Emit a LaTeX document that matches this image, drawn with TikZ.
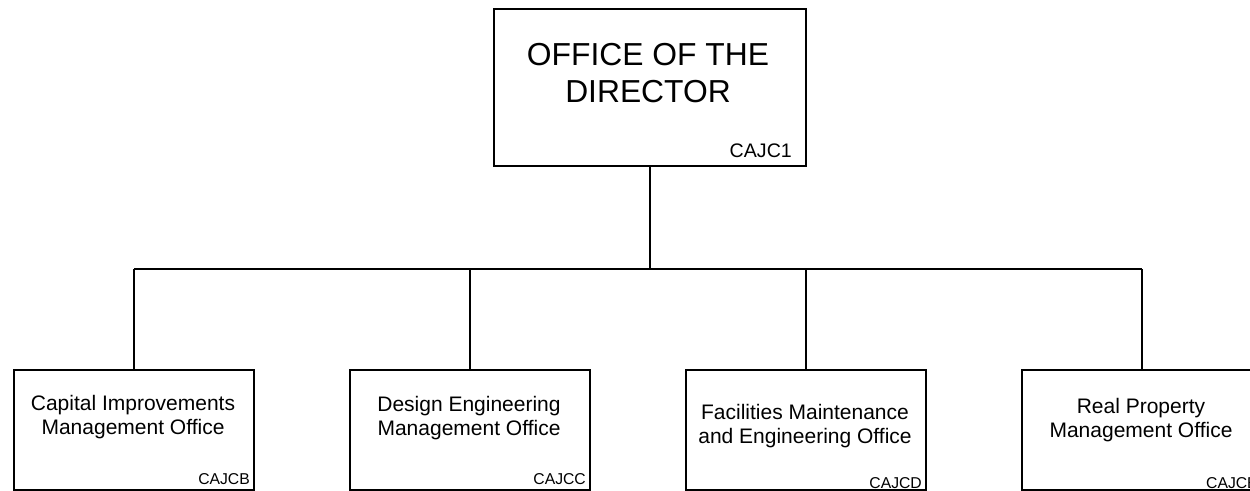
\documentclass[tikz,border=0pt]{standalone}
\usepackage{fontspec}
\setmainfont{Liberation Sans}
\begin{document}
\begin{tikzpicture}[x=1pt,y=-1pt,
  box/.style={draw=black,line width=2pt,fill=white,minimum width=240pt,minimum height=120pt,inner sep=0pt,anchor=north west},
  topbox/.style={box,minimum width=312pt,minimum height=157pt},
  title/.style={font=\fontsize{31.8}{37}\selectfont,align=center,text=black},
  unit/.style={font=\fontsize{21}{23.5}\selectfont,align=center,text=black},
  code/.style={font=\fontsize{15.7}{17}\selectfont,anchor=base east,inner sep=0pt,text=black},
  codebig/.style={font=\fontsize{19.6}{21}\selectfont,anchor=base east,inner sep=0pt,text=black},
  link/.style={draw=black,line width=2pt}]
\useasboundingbox (0,0) rectangle (1250,490);
\node[topbox] (dir) at (493,8) {};
\node[title] (dirt) at (648,73) {OFFICE OF THE\\DIRECTOR};
\node[codebig] (dirc) at (792,157) {CAJC1};
\coordinate (bar) at (650,269);
\node[box] (b1) at (13,369) {};
\node[box] (b2) at (349,369) {};
\node[box] (b3) at (685,369) {};
\node[box] (b4) at (1021,369) {};
\draw[link] (dir.south) -- (bar);
\draw[link] (b1.north |- bar) -- (b4.north |- bar);
\foreach \b in {b1,b2,b3,b4} \draw[link] (\b.north |- bar) -- (\b.north);
\node[unit] (t1) at (133,417) {Capital Improvements\\Management Office};
\node[unit] (t2) at (469,418) {Design Engineering\\Management Office};
\node[unit] (t3) at (805,426) {Facilities Maintenance\\and Engineering Office};
\node[unit] (t4) at (1141,420) {Real Property\\Management Office};
\node[code] (c1) at (250,484) {CAJCB};
\node[code] (c2) at (586,484) {CAJCC};
\node[code] (c3) at (922,488) {CAJCD};
\node[code,anchor=base west] (c4) at (1206,488) {CAJCE};
\end{tikzpicture}
\end{document}
